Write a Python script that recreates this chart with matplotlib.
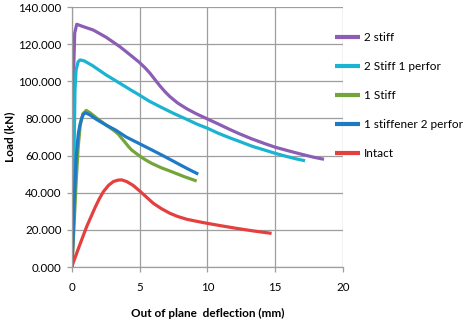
import numpy as np
import matplotlib.pyplot as plt

# data
labels = ["2 stiff", "2 Stiff 1 perfor", "1 Stiff", "1 stiffener 2 perfor", "Intact"]
colors = ["#8C5DB4", "#1AB4D2", "#74A53A", "#1F7AC6", "#E4403F"]

x_2stiff = [0.0, 0.05, 0.1, 0.2, 0.35, 0.8, 1.57, 2.5, 3.0, 3.54, 4.04, 4.5, 4.97, 5.4, 5.76, 6.1, 6.5, 6.85,
            7.23, 7.8, 8.47, 9.2, 10.0, 10.8, 11.66, 12.4, 13.3, 14.2, 15.0, 16.0, 17.0, 17.9, 18.6]
y_2stiff = [0.0, 50.0, 100.0, 126.0, 130.7, 129.5, 127.6, 123.8, 121.3, 118.6, 115.7, 113.0, 110.2, 107.2, 104.3, 101.1, 97.4, 94.5,
            91.7, 88.3, 85.2, 82.4, 79.7, 77.0, 74.0, 71.6, 68.9, 66.5, 64.5, 62.5, 60.6, 59.0, 58.0]

x_2s1p = [0.0, 0.08, 0.15, 0.22, 0.3, 0.45, 0.6, 0.9, 1.5, 2.5, 3.54, 4.3, 4.97, 5.7, 6.5, 7.5, 8.47,
          9.2, 10.0, 10.8, 11.66, 12.4, 13.3, 14.2, 15.0, 15.8, 16.5, 17.2]
y_2s1p = [0.0, 30.0, 60.0, 95.0, 106.0, 110.5, 111.5, 111.0, 108.5, 103.5, 98.9, 95.5, 92.6, 89.3, 86.3, 82.7, 79.5,
          77.0, 74.7, 72.0, 69.5, 67.5, 65.0, 63.0, 61.2, 59.6, 58.3, 57.2]

x_1stiff = [0.0, 0.15, 0.3, 0.45, 0.6, 0.8, 1.05, 1.3, 1.8, 2.5, 3.1, 3.42, 3.7, 3.91, 4.15, 4.4, 4.95,
            5.4, 5.88, 6.6, 7.36, 8.3, 9.2]
y_1stiff = [0.0, 22.0, 45.0, 64.0, 76.0, 82.5, 84.3, 83.2, 80.3, 76.5, 73.5, 71.5, 69.0, 67.2, 65.0, 63.0, 60.0,
            57.8, 55.8, 53.4, 51.3, 48.6, 46.3]

x_1s2p = [0.0, 0.08, 0.17, 0.3, 0.4, 0.47, 0.6, 0.71, 0.85, 1.0, 1.3, 1.8, 2.5, 3.2, 4.0, 4.95, 5.9,
          6.86, 7.6, 8.5, 9.32]
y_1s2p = [0.0, 15.0, 36.0, 58.0, 67.0, 72.0, 77.0, 80.0, 82.3, 83.0, 82.0, 79.5, 76.5, 73.8, 70.0, 66.5, 63.0,
          59.4, 56.5, 53.0, 50.0]

x_intact = [0.0, 0.5, 1.08, 1.7, 2.0, 2.31, 2.7, 3.05, 3.4, 3.67, 4.04, 4.5, 4.97, 5.5, 6.0, 6.6, 7.23,
            7.8, 8.47, 9.2, 9.99, 11.0, 12.15, 13.4, 14.73]
y_intact = [0.5, 10.5, 21.7, 32.0, 36.5, 40.5, 44.0, 46.0, 46.8, 46.9, 46.0, 44.0, 41.1, 37.6, 34.3, 31.4, 28.9,
            27.2, 25.7, 24.6, 23.5, 22.2, 20.8, 19.4, 18.1]

xs = [x_2stiff, x_2s1p, x_1stiff, x_1s2p, x_intact]
ys = [y_2stiff, y_2s1p, y_1stiff, y_1s2p, y_intact]

x_ticks = [0, 5, 10, 15, 20]
y_ticks = [0, 20, 40, 60, 80, 100, 120, 140]

fn = "Lato"
fig = plt.figure(figsize=(4.64, 3.23), dpi=100)
ax = fig.add_axes([72/464, 56/323, 271/464, 260/323])

for x, y, c, lab in zip(xs, ys, colors, labels):
    ax.plot(x, y, color=c, lw=2.3, label=lab, solid_capstyle="butt", solid_joinstyle="round")

ax.set_xlim(0, 20)
ax.set_ylim(0, 140)
ax.set_xticks(x_ticks)
ax.set_yticks(y_ticks)
ax.set_xticklabels([str(t) for t in x_ticks], fontname=fn, fontsize=8.3)
ax.set_yticklabels(["%.3f" % t for t in y_ticks], fontname=fn, fontsize=8.3)
ax.grid(True, color="#9e9e9e", lw=0.9)
ax.set_axisbelow(True)
for s in ["top", "right"]:
    ax.spines[s].set_visible(False)
for s in ["left", "bottom"]:
    ax.spines[s].set_color("#9e9e9e")
    ax.spines[s].set_linewidth(0.9)
ax.tick_params(color="#9e9e9e", length=3.5, width=0.9)
ax.tick_params(axis="x", pad=7)
ax.tick_params(axis="y", pad=4)

ax.set_xlabel("Out of plane  deflection (mm)", fontname=fn, fontsize=8.5, fontweight="bold")
ax.xaxis.set_label_coords(0.5, -(313 - 267) / 260)
ax.xaxis.label.set_va("center")
ax.set_ylabel("Load (kN)", fontname=fn, fontsize=8.5, fontweight="bold")
ax.yaxis.set_label_coords((10 - 72) / 271, 0.5)
ax.yaxis.label.set_va("center")

leg = ax.legend(loc="upper left", bbox_to_anchor=(335/464, 1 - 32/323), bbox_transform=fig.transFigure,
                frameon=False, borderpad=0, borderaxespad=0, handlelength=2.1, handletextpad=0.35,
                labelspacing=1.52, prop={"family": fn, "size": 8.5})
for line in leg.get_lines():
    line.set_linewidth(3)

fig.savefig("out.png", dpi=100)
